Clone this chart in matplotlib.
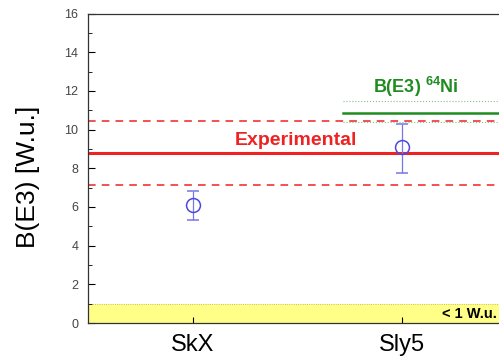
import matplotlib
matplotlib.use('Agg')
import matplotlib.pyplot as plt
from matplotlib.ticker import MultipleLocator

plt.rcParams['font.family'] = ['Liberation Sans', 'DejaVu Sans']
plt.rcParams['mathtext.fontset'] = 'custom'
plt.rcParams['mathtext.rm'] = 'Liberation Sans'
plt.rcParams['mathtext.bf'] = 'Liberation Sans:bold'

models = ["SkX", "Sly5"]
be3 = [6.08, 9.08]
err_lo = [0.75, 1.3]
err_hi = [0.77, 1.2]

exp_val = 8.8
exp_lo = 7.15
exp_hi = 10.45

ni_val = 10.87
ni_lo = 10.37
ni_hi = 11.47

limit = 1.0

fig = plt.figure(figsize=(4.99, 3.62), dpi=100)
ax = fig.add_axes([0.1764, 0.1077, 0.8377, 0.855])

xs = [1, 2]
ax.set_xlim(0.5, 2.5)
ax.set_ylim(0, 16)

red = '#ee2222'
green = '#1e8c1e'
blue = '#4a4ae0'

ax.axhspan(0, limit, color='#ffff88', zorder=0, lw=0)
ax.axhline(limit, color='#b0b060', lw=0.6, ls=':', zorder=1)

ax.axhline(exp_val, color=red, lw=2.2)
ax.axhline(exp_lo, color=red, lw=1.1, ls=(0, (5, 4)))
ax.axhline(exp_hi, color=red, lw=1.1, ls=(0, (5, 4)))

x0 = 1.72
ax.plot([x0, 2.5], [ni_val, ni_val], color=green, lw=1.8)
ax.plot([x0, 2.5], [ni_lo, ni_lo], color='#88c088', lw=0.8, ls=':')
ax.plot([x0, 2.5], [ni_hi, ni_hi], color='#88c088', lw=0.8, ls=':')

ax.errorbar(xs, be3, yerr=[err_lo, err_hi], fmt='o', mfc='none', mec=blue,
            ecolor='#7878e4', ms=10, mew=1.1, elinewidth=0.9, capsize=4, capthick=0.9, zorder=5)

ax.text(1.495, 9.42, "Experimental", color=red, fontsize=14, fontweight='bold',
        ha='center', va='center')
ax.text(2.07, 12.2, r"B(E3) $^{\mathbf{64}}$Ni", color=green, fontsize=13, fontweight='bold',
        ha='center', va='center')
ax.text(2.455, 0.45, "< 1 W.u.", color='black', fontsize=10.5, fontweight='bold',
        ha='right', va='center')

ax.set_xticks(xs)
ax.set_xticklabels(models, fontsize=17)
ax.yaxis.set_major_locator(MultipleLocator(2))
ax.yaxis.set_minor_locator(MultipleLocator(1))
ax.tick_params(axis='y', which='major', direction='in', length=5, labelsize=9,
               labelcolor='#444444', right=True, pad=7)
ax.tick_params(axis='y', which='minor', direction='in', length=3, right=True)
ax.tick_params(axis='x', direction='in', length=4, pad=8)
for s in ax.spines.values():
    s.set_linewidth(0.9)
    s.set_color('#333333')

ax.set_ylabel("B(E3) [W.u.]", fontsize=19)
ax.yaxis.set_label_coords(-0.115, 0.472)

fig.savefig('out.png', dpi=100)
plt.close()
